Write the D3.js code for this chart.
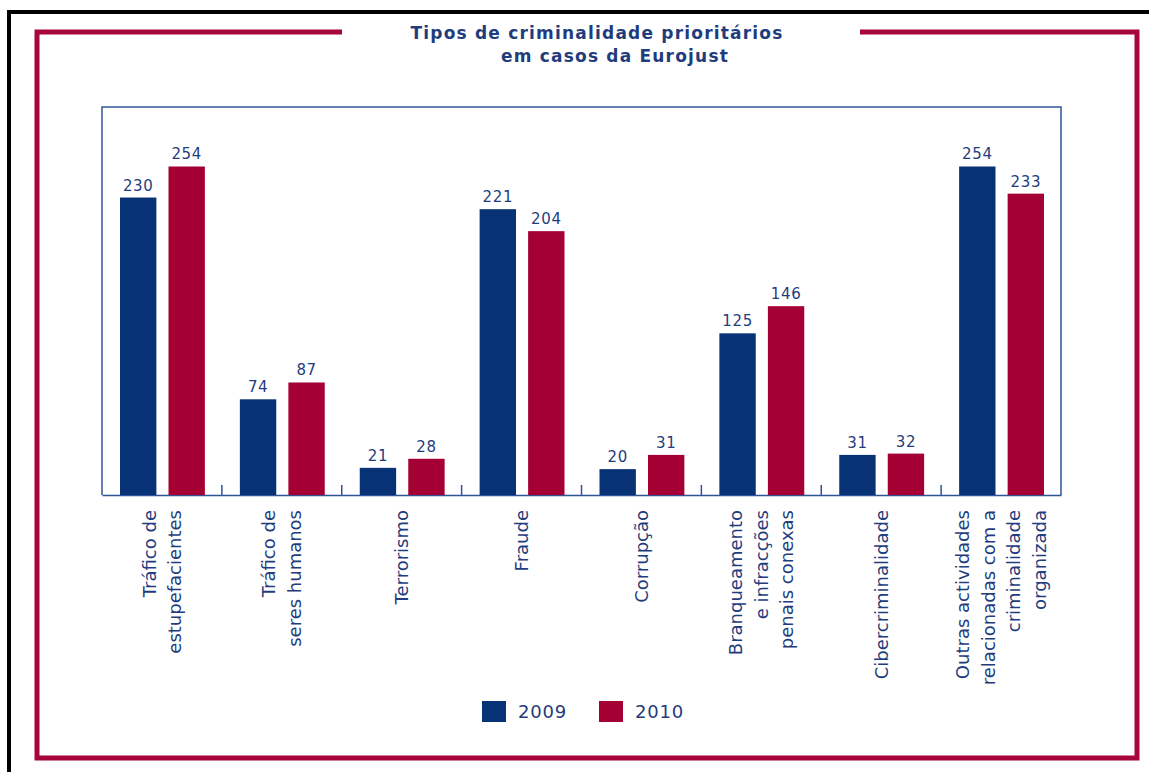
<!DOCTYPE html>
<html>
<head>
<meta charset="utf-8">
<script src="https://cdn.jsdelivr.net/npm/d3@7"></script>
<style>
  body { margin: 0; background: #fff; }
  svg text { font-family: "DejaVu Sans", Verdana, sans-serif; }
</style>
</head>
<body>
<div id="chart"></div>
<script>
// Data
var categories = [
  ["Tráfico de", "estupefacientes"],
  ["Tráfico de", "seres humanos"],
  ["Terrorismo"],
  ["Fraude"],
  ["Corrupção"],
  ["Branqueamento", "e infracções", "penais conexas"],
  ["Cibercriminalidade"],
  ["Outras actividades", "relacionadas com a", "criminalidade", "organizada"]
];
var years = ["2009", "2010"];
var values2009 = [230, 74, 21, 221, 20, 125, 31, 254];
var values2010 = [254, 87, 28, 204, 31, 146, 32, 233];

var svgWidth = 1149;
var svgHeight = 772;

var blue = "#083276";
var red = "#a50034";
var textBlue = "#1f3d7c";
var frameRed = "#a8063a";

var margin = { top: 107, left: 102, right: 88, bottom: 277 };
var width = svgWidth - margin.left - margin.right;
var height = svgHeight - margin.top - margin.bottom;

var svg = d3.select("#chart")
  .append("svg")
  .attr("width", svgWidth)
  .attr("height", svgHeight);

// outer black edge (top and left)
svg.append("path")
  .attr("d", "M9,772 L9,12 L1149,12")
  .attr("fill", "none")
  .attr("stroke", "#000")
  .attr("stroke-width", 4);

// red frame with gap for title
svg.append("path")
  .attr("d", "M342,32 L37,32 L37,758 L1137,758 L1137,32 L860,32")
  .attr("fill", "none")
  .attr("stroke", frameRed)
  .attr("stroke-width", 5);

// title
svg.append("text")
  .attr("x", 597)
  .attr("y", 39)
  .attr("text-anchor", "middle")
  .attr("font-size", "17px")
  .attr("font-weight", "bold")
  .attr("letter-spacing", "1.2px")
  .attr("fill", textBlue)
  .text("Tipos de criminalidade prioritários");
svg.append("text")
  .attr("x", 615)
  .attr("y", 62)
  .attr("text-anchor", "middle")
  .attr("font-size", "17px")
  .attr("font-weight", "bold")
  .attr("letter-spacing", "1.2px")
  .attr("fill", textBlue)
  .text("em casos da Eurojust");

var chartGroup = svg.append("g")
  .attr("transform", `translate(${margin.left}, ${margin.top})`);

// Scales
var idx = d3.range(categories.length);
var xScale = d3.scaleBand()
  .domain(idx)
  .range([0, width]);

var xInner = d3.scaleBand()
  .domain(years)
  .range([18, xScale.bandwidth() - 17])
  .paddingInner(0.25);

var yScale = d3.scaleLinear()
  .domain([0, 300])
  .range([height, 0]);

// plot box (left, top, right)
chartGroup.append("path")
  .attr("d", `M0,${height} L0,0 L${width},0 L${width},${height}`)
  .attr("fill", "none")
  .attr("stroke", "#2e5597")
  .attr("stroke-width", 1.5);

// bottom axis with inner ticks between groups
var bottomAxis = d3.axisBottom(xScale)
  .tickSize(0)
  .tickFormat("");
var axisG = chartGroup.append("g")
  .attr("transform", `translate(0,${height})`)
  .call(bottomAxis);
axisG.select(".domain")
  .attr("stroke", "#2e5597")
  .attr("stroke-width", 1.5);

chartGroup.selectAll(".sep")
  .data(idx.slice(1))
  .enter()
  .append("line")
  .attr("class", "sep")
  .attr("x1", d => xScale(d))
  .attr("x2", d => xScale(d))
  .attr("y1", height)
  .attr("y2", height - 10)
  .attr("stroke", "#2e5597")
  .attr("stroke-width", 1.5);

// bars
var series = [
  { year: "2009", values: values2009, color: blue },
  { year: "2010", values: values2010, color: red }
];

series.forEach(function (s) {
  chartGroup.selectAll(".bar" + s.year)
    .data(s.values)
    .enter()
    .append("rect")
    .attr("x", (d, i) => xScale(i) + xInner(s.year))
    .attr("y", d => yScale(d))
    .attr("width", xInner.bandwidth())
    .attr("height", d => height - yScale(d))
    .attr("fill", s.color);

  chartGroup.selectAll(".lab" + s.year)
    .data(s.values)
    .enter()
    .append("text")
    .attr("x", (d, i) => xScale(i) + xInner(s.year) + xInner.bandwidth() / 2)
    .attr("y", d => yScale(d) - 7)
    .attr("text-anchor", "middle")
    .attr("font-size", "15px")
    .attr("letter-spacing", "0.6px")
    .attr("fill", textBlue)
    .text(d => d);
});

// category labels (rotated, multi-line)
var lineGap = 25.5;
categories.forEach(function (lines, i) {
  var cx = xScale(i) + xScale.bandwidth() / 2;
  var t = chartGroup.append("text")
    .attr("transform", `translate(${cx},${height + 15}) rotate(-90)`)
    .attr("text-anchor", "end")
    .attr("font-size", "18px")
    .attr("fill", textBlue);
  lines.forEach(function (line, j) {
    t.append("tspan")
      .attr("x", 0)
      .attr("y", (j - (lines.length - 1) / 2) * lineGap)
      .attr("dy", "0.35em")
      .text(line);
  });
});

// legend
var legend = svg.append("g")
  .attr("transform", "translate(482,701)");
series.forEach(function (s, i) {
  var g = legend.append("g").attr("transform", `translate(${i * 117},0)`);
  g.append("rect")
    .attr("width", 24)
    .attr("height", 21)
    .attr("fill", s.color);
  g.append("text")
    .attr("x", 36)
    .attr("y", 17)
    .attr("font-size", "18px")
    .attr("letter-spacing", "0.8px")
    .attr("fill", textBlue)
    .text(s.year);
});
</script>
</body>
</html>
